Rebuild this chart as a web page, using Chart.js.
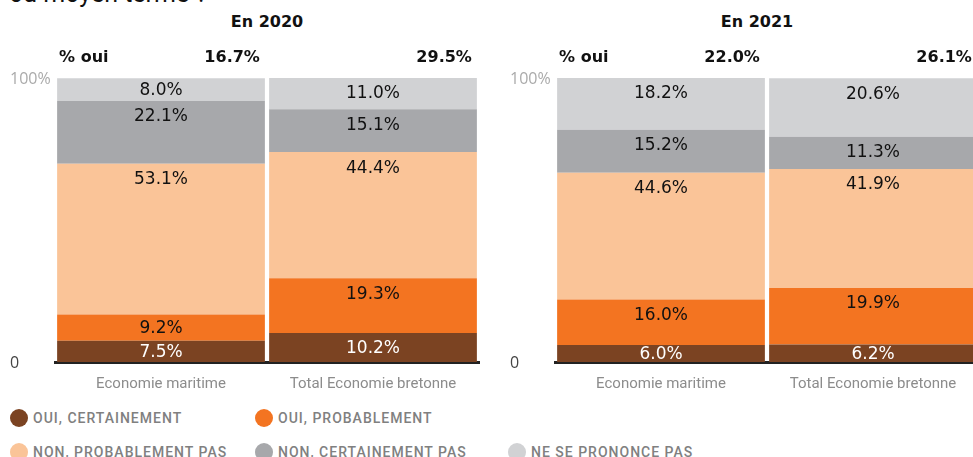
<!DOCTYPE html>
<html>
<head>
<meta charset="utf-8">
<script src="https://cdn.jsdelivr.net/npm/chart.js@4.4.1/dist/chart.umd.min.js"></script>
<style>
  body { margin: 0; width: 973px; height: 457px; overflow: hidden; position: relative; background: #fff; }
  #question { position: absolute; left: 9px; top: -20px; font: 25px Roboto, sans-serif; color: #111; line-height: 28px; white-space: nowrap; }
  .year { position: absolute; top: 12px; transform: translateX(-50%); font: bold 16px "DejaVu Sans", sans-serif; color: #111; white-space: nowrap; }
  .panel { position: absolute; top: 0; width: 490px; height: 400px; }
  #legend { position: absolute; left: 10px; top: 408px; display: grid; grid-template-columns: 245px 253px 220px; row-gap: 15px; }
  .item { display: flex; align-items: center; height: 19px; font: 500 14px Roboto, sans-serif; letter-spacing: 1px; color: #808080; white-space: nowrap; }
  .dot { width: 18px; height: 18px; border-radius: 50%; margin-right: 5px; flex: none; }
</style>
</head>
<body>
<div id="question">ou moyen terme ?</div>
<div class="year" style="left:267px">En 2020</div>
<div class="year" style="left:757px">En 2021</div>
<div class="panel" style="left:0"><canvas id="chart2020" width="490" height="400"></canvas></div>
<div class="panel" style="left:500px"><canvas id="chart2021" width="490" height="400"></canvas></div>
<div id="legend"></div>

<script>
// categories and series
const categories = ['Economie maritime', 'Total Economie bretonne'];
const seriesNames = ['OUI, CERTAINEMENT', 'OUI, PROBABLEMENT', 'NON, PROBABLEMENT PAS', 'NON, CERTAINEMENT PAS', 'NE SE PRONONCE PAS'];
const seriesColors = ['#7b4322', '#f37421', '#fac498', '#a7a8ab', '#d1d2d4'];

// 2020 values (%)
const ouiCertainement2020 = [7.5, 10.2];
const ouiProbablement2020 = [9.2, 19.3];
const nonProbablement2020 = [53.1, 44.4];
const nonCertainement2020 = [22.1, 15.1];
const nsp2020 = [8.0, 11.0];

// 2021 values (%)
const ouiCertainement2021 = [6.0, 6.2];
const ouiProbablement2021 = [16.0, 19.9];
const nonProbablement2021 = [44.6, 41.9];
const nonCertainement2021 = [15.2, 11.3];
const nsp2021 = [18.2, 20.6];

const yTickLabels = ['0', '100%'];

// labels inside each segment, near the top
const segmentLabels = {
    id: 'segmentLabels',
    afterDatasetsDraw(chart) {
        const ctx = chart.ctx;
        ctx.save();
        ctx.font = '17px "DejaVu Sans"';
        ctx.textAlign = 'center';
        ctx.textBaseline = 'middle';
        chart.data.datasets.forEach((ds, i) => {
            chart.getDatasetMeta(i).data.forEach((bar, j) => {
                const top = Math.min(bar.y, bar.base);
                const bottom = Math.max(bar.y, bar.base);
                const y = Math.min(top + 15, (top + bottom) / 2);
                ctx.fillStyle = i === 0 ? '#fff' : '#111';
                ctx.fillText(ds.data[j].toFixed(1) + '%', bar.x, y + 1);
            });
        });
        ctx.restore();
    }
};

// "% oui" row above the bars
const ouiHeader = {
    id: 'ouiHeader',
    afterDraw(chart) {
        const ctx = chart.ctx;
        const bars = chart.getDatasetMeta(0).data;
        ctx.save();
        ctx.font = 'bold 16px "DejaVu Sans"';
        ctx.fillStyle = '#111';
        ctx.textBaseline = 'middle';
        ctx.textAlign = 'left';
        ctx.fillText('% oui', bars[0].x - bars[0].width / 2 + 2, 58);
        ctx.textAlign = 'right';
        bars.forEach((bar, j) => {
            const oui = chart.data.datasets[0].data[j] + chart.data.datasets[1].data[j];
            ctx.fillText(oui.toFixed(1) + '%', bar.x + bar.width / 2 - 5, 58);
        });
        ctx.restore();
    }
};

function createStackedChart(canvasId, seriesValues) {
    const ctx = document.getElementById(canvasId).getContext('2d');
    return new Chart(ctx, {
        type: 'bar',
        data: {
            labels: categories,
            datasets: seriesValues.map((vals, i) => ({
                label: seriesNames[i],
                data: vals,
                backgroundColor: seriesColors[i],
                borderWidth: 0,
                barPercentage: 0.98,
                categoryPercentage: 1
            }))
        },
        options: {
            responsive: false,
            animation: false,
            layout: { padding: { top: 78, bottom: 0, left: 10, right: 11 } },
            scales: {
                x: {
                    stacked: true,
                    grid: { display: false, drawTicks: false },
                    border: { display: true, color: '#222', width: 3 },
                    ticks: { color: '#8c8c8c', font: { family: 'Roboto', size: 15 }, padding: 13 },
                    afterFit: scale => { scale.height = 38; }
                },
                y: {
                    stacked: true,
                    min: 0,
                    max: 100,
                    grid: { display: false, drawTicks: false },
                    border: { display: false },
                    afterBuildTicks: axis => { axis.ticks = [{ value: 0 }, { value: 100 }]; },
                    ticks: {
                        crossAlign: 'far',
                        labelOffset: 1,
                        font: { family: 'Open Sans', size: 16 },
                        color: c => c.tick.value === 100 ? '#aaaaaa' : '#444444',
                        callback: v => v === 100 ? yTickLabels[1] : yTickLabels[0]
                    },
                    afterFit: scale => { scale.width = 45; }
                }
            },
            plugins: {
                legend: { display: false },
                tooltip: { enabled: false }
            }
        },
        plugins: [segmentLabels, ouiHeader]
    });
}

createStackedChart('chart2020', [ouiCertainement2020, ouiProbablement2020, nonProbablement2020, nonCertainement2020, nsp2020]);
createStackedChart('chart2021', [ouiCertainement2021, ouiProbablement2021, nonProbablement2021, nonCertainement2021, nsp2021]);

// legend: two items on the first row, three on the second
const legend = document.getElementById('legend');
seriesNames.forEach((name, i) => {
    const item = document.createElement('div');
    item.className = 'item';
    item.innerHTML = '<span class="dot" style="background:' + seriesColors[i] + '"></span>' + name;
    legend.appendChild(item);
    if (i === 1) legend.appendChild(document.createElement('div'));
});
</script>
</body>
</html>
